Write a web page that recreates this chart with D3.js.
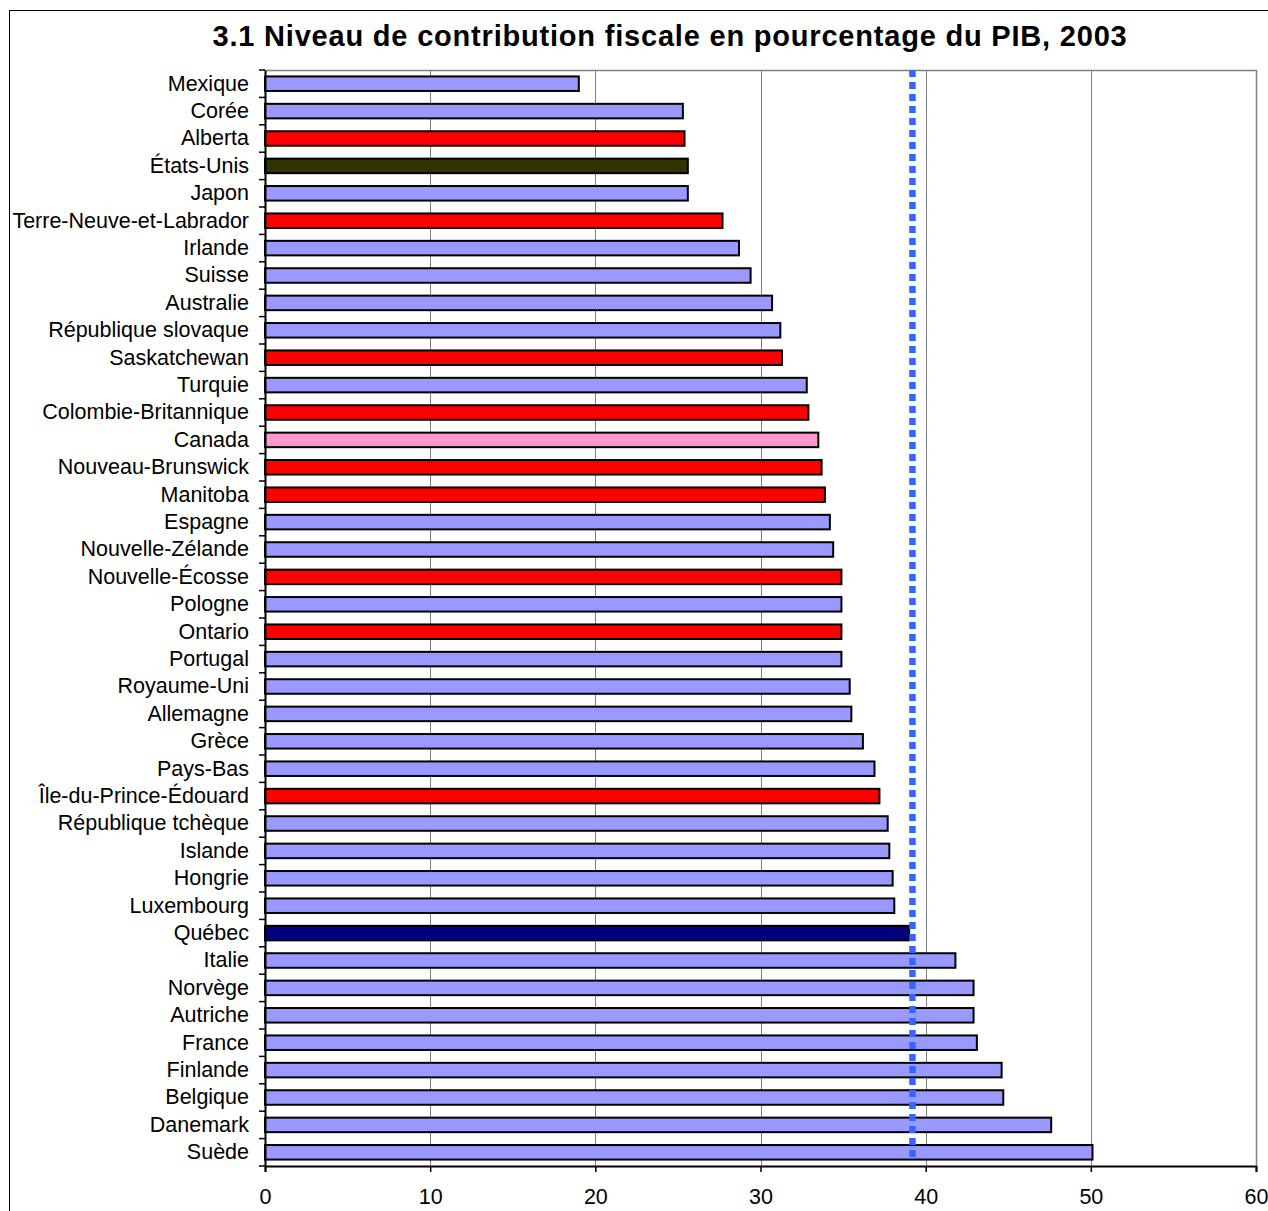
<!DOCTYPE html>
<html>
<head>
<meta charset="utf-8">
<script src="https://cdn.jsdelivr.net/npm/d3@7"></script>
<style>
  html, body { margin: 0; padding: 0; background: #fff; }
  svg { display: block; font-family: "Liberation Sans", Arial, sans-serif; }
</style>
</head>
<body>
<svg id="chart" width="1268" height="1211"></svg>
<script>
// Tax revenue as % of GDP, 2003
const categories = [
  "Mexique", "Corée", "Alberta", "États-Unis", "Japon", "Terre-Neuve-et-Labrador",
  "Irlande", "Suisse", "Australie", "République slovaque", "Saskatchewan", "Turquie",
  "Colombie-Britannique", "Canada", "Nouveau-Brunswick", "Manitoba", "Espagne",
  "Nouvelle-Zélande", "Nouvelle-Écosse", "Pologne", "Ontario", "Portugal",
  "Royaume-Uni", "Allemagne", "Grèce", "Pays-Bas", "Île-du-Prince-Édouard",
  "République tchèque", "Islande", "Hongrie", "Luxembourg", "Québec", "Italie",
  "Norvège", "Autriche", "France", "Finlande", "Belgique", "Danemark", "Suède"
];
const values = [
  19.0, 25.3, 25.4, 25.6, 25.6, 27.7,
  28.7, 29.4, 30.7, 31.2, 31.3, 32.8,
  32.9, 33.5, 33.7, 33.9, 34.2,
  34.4, 34.9, 34.9, 34.9, 34.9,
  35.4, 35.5, 36.2, 36.9, 37.2,
  37.7, 37.8, 38.0, 38.1, 39.0, 41.8,
  42.9, 42.9, 43.1, 44.6, 44.7, 47.6, 50.1
];
// Group of each bar: country, province, usa, canada, quebec
const groups = [
  "country", "country", "province", "usa", "country", "province",
  "country", "country", "country", "country", "province", "country",
  "province", "canada", "province", "province", "country",
  "country", "province", "country", "province", "country",
  "country", "country", "country", "country", "province",
  "country", "country", "country", "country", "quebec", "country",
  "country", "country", "country", "country", "country", "country", "country"
];
const referenceValue = 39.2;   // Québec reference line
const xTicks = [0, 10, 20, 30, 40, 50, 60];
const title = "3.1 Niveau de contribution fiscale en pourcentage du PIB, 2003";

const groupColors = {
  country: "#9999FF",
  province: "#FF0000",
  usa: "#333300",
  canada: "#FF99CC",
  quebec: "#000080"
};

const svg = d3.select("#chart");
const plot = { left: 265, right: 1256, top: 70, bottom: 1166 };
const labelFont = 21.5;

// outer frame (extends past the right and bottom edges of the page)
svg.append("rect")
  .attr("x", 9.5).attr("y", 10.5)
  .attr("width", 1300).attr("height", 1300)
  .attr("fill", "none").attr("stroke", "#000").attr("stroke-width", 1);

svg.append("text")
  .attr("x", 670).attr("y", 46)
  .attr("text-anchor", "middle")
  .attr("font-size", 29).attr("font-weight", "bold")
  .attr("letter-spacing", 0.8)
  .text(title);

const x = d3.scaleLinear().domain([0, 60]).range([plot.left, plot.right]);
const y = d3.scaleBand().domain(categories)
  .range([plot.top, plot.bottom])
  .paddingInner(0.47).paddingOuter(0.235);

// gridlines
svg.append("g").selectAll("line")
  .data(xTicks.filter(t => t > 0))
  .join("line")
  .attr("x1", d => Math.round(x(d)) + 0.5).attr("x2", d => Math.round(x(d)) + 0.5)
  .attr("y1", plot.top).attr("y2", plot.bottom)
  .attr("stroke", "#808080").attr("stroke-width", 1);

// plot frame top
svg.append("line")
  .attr("x1", plot.left).attr("x2", plot.right)
  .attr("y1", plot.top + 0.5).attr("y2", plot.top + 0.5)
  .attr("stroke", "#808080").attr("stroke-width", 1.5);

// bars
svg.append("g").selectAll("rect")
  .data(categories)
  .join("rect")
  .attr("x", x(0))
  .attr("y", d => y(d))
  .attr("width", (d, i) => x(values[i]) - x(0))
  .attr("height", y.bandwidth())
  .attr("fill", (d, i) => groupColors[groups[i]])
  .attr("stroke", "#000")
  .attr("stroke-width", 2);

// reference line
svg.append("line")
  .attr("x1", x(referenceValue)).attr("x2", x(referenceValue))
  .attr("y1", plot.top).attr("y2", plot.bottom - 9)
  .attr("stroke", "#3366FF").attr("stroke-width", 6.5)
  .attr("stroke-dasharray", "7,5");

// x axis
const xAxis = d3.axisBottom(x).tickValues(xTicks).tickSize(6).tickPadding(17)
  .tickFormat(d3.format("d"));
const gx = svg.append("g").attr("transform", `translate(0,${plot.bottom})`).call(xAxis);
gx.select(".domain").attr("stroke", "#000").attr("stroke-width", 2);
gx.selectAll(".tick line").attr("stroke", "#000").attr("stroke-width", 1.5);
gx.selectAll(".tick text").attr("font-size", labelFont).attr("fill", "#000")
  .attr("font-family", "Liberation Sans, Arial, sans-serif");

// y axis with ticks between categories
const yAxis = d3.axisLeft(y).tickSize(0).tickPadding(16);
const gy = svg.append("g").attr("transform", `translate(${plot.left},0)`).call(yAxis);
gy.select(".domain").attr("stroke", "#000").attr("stroke-width", 2);
gy.selectAll(".tick text").attr("font-size", labelFont).attr("fill", "#000")
  .attr("font-family", "Liberation Sans, Arial, sans-serif");
const boundaries = d3.range(categories.length + 1).map(i => plot.top + i * y.step());
gy.append("g").selectAll("line")
  .data(boundaries)
  .join("line")
  .attr("x1", -6).attr("x2", 0)
  .attr("y1", d => d).attr("y2", d => d)
  .attr("stroke", "#000").attr("stroke-width", 1.5);

// plot frame right
svg.append("line")
  .attr("x1", plot.right + 0.5).attr("x2", plot.right + 0.5)
  .attr("y1", plot.top).attr("y2", plot.bottom)
  .attr("stroke", "#808080").attr("stroke-width", 1.5);
</script>
</body>
</html>
